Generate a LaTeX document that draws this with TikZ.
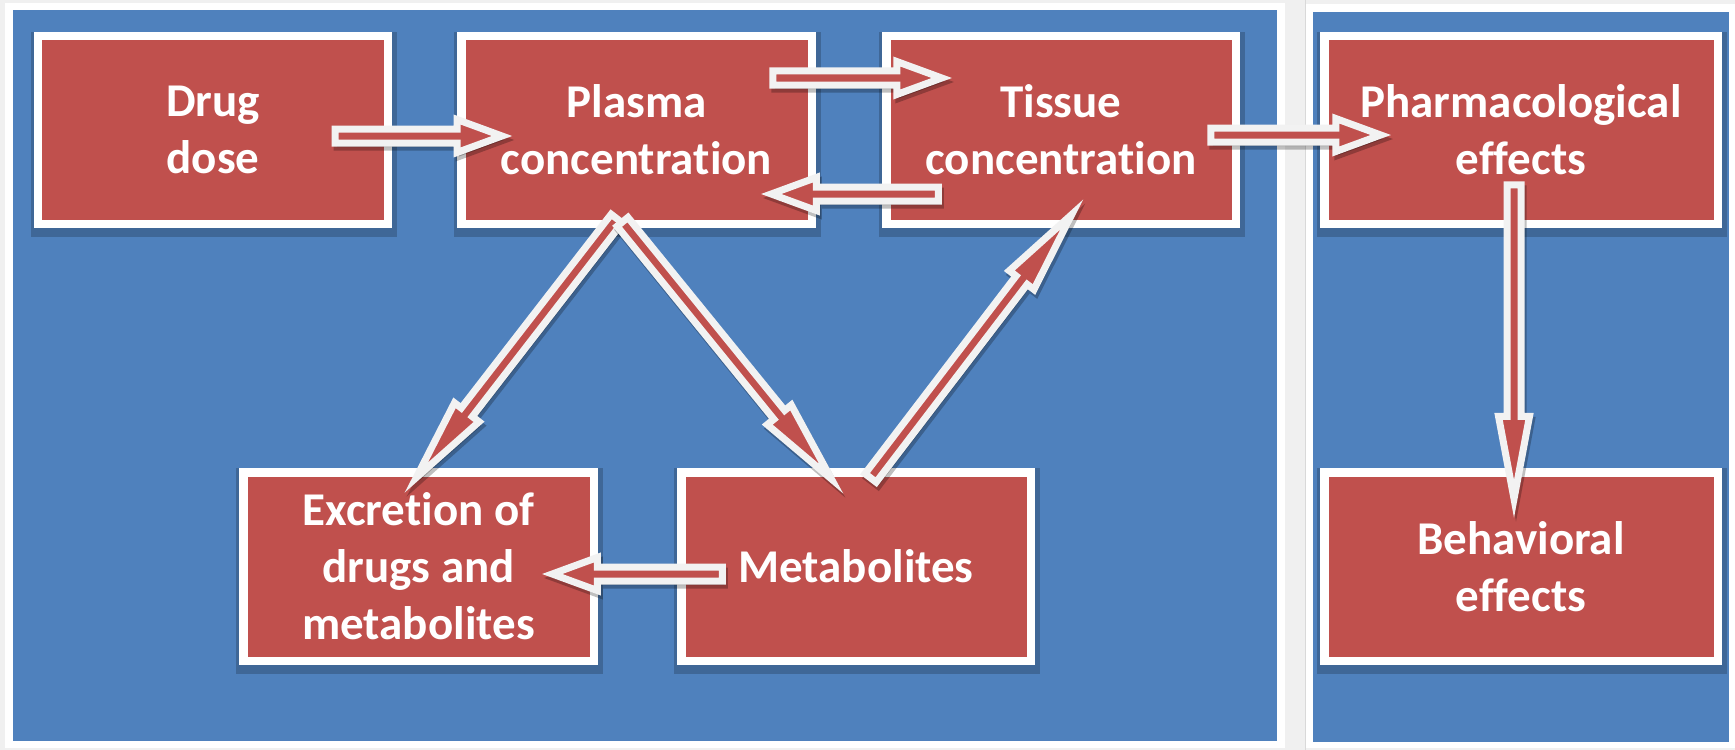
\documentclass[tikz,border=0pt]{standalone}
\usepackage{fontspec}
\newfontfamily\boxfont{Carlito}[Ligatures={NoCommon}]
\usetikzlibrary{calc}
\definecolor{panelblue}{HTML}{4F81BD}
\definecolor{boxred}{HTML}{C0504D}
\definecolor{paper}{HTML}{F0F0F0}
\definecolor{rim}{HTML}{F2F2F2}
\pgfdeclarelayer{bg}
\pgfdeclarelayer{shade}
\pgfsetlayers{bg,shade,main}

% block arrow: start, tip, head length, head half width
\newcommand\blkarrow[4]{%
  \coordinate (ba-s) at #1;
  \coordinate (ba-e) at #2;
  \coordinate (ba-b) at ($(ba-e)!#3!(ba-s)$);
  \path[arrowshadow] ($(ba-s)!7bp!90:(ba-e)$) -- ($(ba-b)!7bp!90:(ba-e)$)
    -- ($(ba-b)!#4!90:(ba-e)$) -- (ba-e) -- ($(ba-b)!#4!-90:(ba-e)$)
    -- ($(ba-b)!7bp!-90:(ba-e)$) -- ($(ba-s)!7bp!-90:(ba-e)$) -- cycle;
  \path[arrowbody] ($(ba-s)!7bp!90:(ba-e)$) -- ($(ba-b)!7bp!90:(ba-e)$)
    -- ($(ba-b)!#4!90:(ba-e)$) -- (ba-e) -- ($(ba-b)!#4!-90:(ba-e)$)
    -- ($(ba-b)!7bp!-90:(ba-e)$) -- ($(ba-s)!7bp!-90:(ba-e)$) -- cycle;
}

\tikzset{
  stage/.style={rectangle, fill=boxred, draw=white, line width=8.5bp,
    minimum height=187.5bp, minimum width=350bp, inner sep=0pt,
    text=white, align=center,
    font=\boxfont\bfseries\fontsize{47bp}{57bp}\selectfont},
  arrowbody/.style={fill=boxred, draw=rim, line width=7bp,
    line join=miter, miter limit=20},
  arrowshadow/.style={fill=black, draw=black, line width=7bp, opacity=0.25,
    line join=miter, miter limit=20,
    transform canvas={xshift=2bp, yshift=-4bp}},
}

\begin{document}
\begin{tikzpicture}[x=1bp, y=-1bp]
\useasboundingbox (0,0) rectangle (1735,750);

% panels
\begin{pgfonlayer}{bg}
  \fill[paper] (0,0) rectangle (1735,750);
  \fill[white] (5,3) rectangle (1285,748);
  \fill[panelblue] (13,10) rectangle (1277,741);
  \draw[black!15, line width=1bp] (1305.5,0) -- (1305.5,750);
  \fill[white] (1306,4) rectangle (1735,748);
  \fill[panelblue] (1313,12) rectangle (1729,742);
\end{pgfonlayer}

% stages
\node[stage, minimum width=349.5bp] (drug)      at (213,130)    {Drug\\dose};
\node[stage, minimum width=350.5bp] (plasma)    at (636.5,130)  {Plasma\\concentration};
\node[stage, minimum width=349.5bp] (tissue)    at (1061,130)   {Tissue\\concentration};
\node[stage, minimum width=393.5bp] (pharma)    at (1521,130)   {Pharmacological\\effects};
\node[stage, minimum width=350.5bp, minimum height=188.5bp] (excretion) at (418.5,566.5) {Excretion of\\drugs and\\metabolites};
\node[stage, minimum width=349.5bp, minimum height=188.5bp] (metab)     at (856,566.5)   {Metabolites};
\node[stage, minimum width=393.5bp, minimum height=188.5bp] (behav)     at (1521,566.5)  {Behavioral\\effects};

% box shadows
\begin{pgfonlayer}{shade}
  \foreach \n in {drug,plasma,tissue,pharma,excretion,metab,behav}
    \fill[black, opacity=0.2] ([xshift=-3.25bp, yshift=-8.75bp]\n.south west)
      rectangle ([xshift=5.25bp, yshift=-0.25bp]\n.north east);
\end{pgfonlayer}

% connectors
\blkarrow{($(drug.east)+(-57,6)$)}{($(plasma.west)+(45,6)$)}{45bp}{16.5bp}
\blkarrow{($(plasma.east)+(-43.25,-52)$)}{($(tissue.west)+(59.75,-52)$)}{45bp}{16.5bp}
\blkarrow{($(tissue.west)+(56.25,64)$)}{($(plasma.east)+(-44.75,64)$)}{45bp}{16.5bp}
\blkarrow{($(tissue.east)+(-29.25,5)$)}{($(pharma.west)+(60.75,5)$)}{45bp}{16.5bp}
\blkarrow{($(metab.west)+(45.25,7.5)$)}{($(excretion.east)+(-45.75,7.5)$)}{45bp}{16.5bp}
\blkarrow{($(pharma.south)+(-7,-43.25)$)}{($(behav.north)+(-7,30.75)$)}{82.5bp}{15.5bp}
\blkarrow{($(plasma.south)+(-19.8,-9.45)$)}{($(excretion.north)+(-2.2,9.55)$)}{82.5bp}{15.5bp}
\blkarrow{($(plasma.south)+(-14,-6.15)$)}{($(metab.north)+(-24.7,10.85)$)}{82.5bp}{15.5bp}
\blkarrow{($(metab.north)+(14.6,9.95)$)}{($(tissue.south)+(10.7,-13.45)$)}{82.5bp}{15.5bp}

\end{tikzpicture}
\end{document}
